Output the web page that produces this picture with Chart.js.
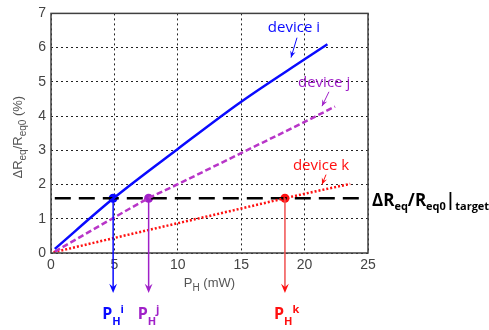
<!DOCTYPE html>
<html>
<head>
<meta charset="utf-8">
<script src="https://cdn.jsdelivr.net/npm/chart.js@4"></script>
<style>
  html, body { margin: 0; padding: 0; background: #fff; }
</style>
</head>
<body>
<canvas id="myChart" width="489" height="330"></canvas>
<script>
// values (x = P_H in mW, y = dR/R in %)
const devI_x = [0.3, 5, 10, 15, 20, 21.8];
const devI_y = [0.12, 1.62, 3.04, 4.42, 5.66, 6.1];
const devJ_x = [0.3, 5, 7.7, 10, 15, 20, 22.4];
const devJ_y = [0.04, 1.04, 1.6, 2.01, 2.92, 3.83, 4.28];
const devK_x = [0.2, 5, 10, 15, 18.45, 20, 23.6];
const devK_y = [0.02, 0.44, 0.87, 1.3, 1.6, 1.73, 2.02];
const target_x = [0.3, 24.8];
const target_y = 1.6;
const cross_x = [4.9, 7.7, 18.45]; // P_H^i, P_H^j, P_H^k
const cross_names = ["i", "j", "k"];

const toPts = (xs, ys) => xs.map((x, i) => ({ x: x, y: Array.isArray(ys) ? ys[i] : ys }));

const BLUE = "#0a0aff";
const PURPLE = "#a020c8";
const MAGENTA = "#b835c8";
const RED = "#ff1010";

// draws a line of text made of runs (normal / sub / sup)
const drawRuns = (ctx, runs, x, y, align) => {
  let total = 0;
  runs.forEach((r) => { ctx.font = r.font; total += ctx.measureText(r.t).width; });
  let cx = align === "center" ? x - total / 2 : x;
  runs.forEach((r) => {
    ctx.font = r.font;
    ctx.fillText(r.t, cx, y + (r.dy || 0));
    cx += ctx.measureText(r.t).width;
  });
};

const arrowHead = (ctx, x1, y1, x2, y2, size, color) => {
  const a = Math.atan2(y2 - y1, x2 - x1);
  ctx.fillStyle = color;
  ctx.beginPath();
  ctx.moveTo(x2, y2);
  ctx.lineTo(x2 - size * Math.cos(a - 0.4), y2 - size * Math.sin(a - 0.4));
  ctx.lineTo(x2 - size * 0.6 * Math.cos(a), y2 - size * 0.6 * Math.sin(a));
  ctx.lineTo(x2 - size * Math.cos(a + 0.4), y2 - size * Math.sin(a + 0.4));
  ctx.closePath();
  ctx.fill();
};

const extras = {
  id: "extras",
  afterDraw(chart) {
    const ctx = chart.ctx;
    const xs = chart.scales.x, ys = chart.scales.y;
    const area = chart.chartArea;
    ctx.save();

    // frame
    ctx.strokeStyle = "#404040";
    ctx.lineWidth = 1.5;
    ctx.setLineDash([]);
    ctx.strokeRect(area.left, area.top, area.right - area.left, area.bottom - area.top);

    // vertical arrows from the crossing points
    const arrowCols = [BLUE, PURPLE, "#f05050"];
    const labelCols = [BLUE, PURPLE, RED];
    const tipY = area.bottom + 40;
    cross_x.forEach((cx, i) => {
      const px = xs.getPixelForValue(cx);
      const py = ys.getPixelForValue(target_y);
      ctx.strokeStyle = arrowCols[i];
      ctx.lineWidth = 1.5;
      ctx.beginPath();
      ctx.moveTo(px, py);
      ctx.lineTo(px, tipY - 4);
      ctx.stroke();
      arrowHead(ctx, px, py, px, tipY, 10, labelCols[i]);

      ctx.fillStyle = labelCols[i];
      ctx.textAlign = "left";
      ctx.textBaseline = "alphabetic";
      drawRuns(ctx, [
        { t: "P", font: "bold 16px 'Open Sans'" },
        { t: "H", font: "bold 11px 'Open Sans'", dy: 6 },
        { t: cross_names[i], font: "bold 11px 'Open Sans'", dy: -6 }
      ], px - 11, area.bottom + 66);
    });

    // device labels with small arrows (anchored in data units)
    const notes = [
      { t: "device i", c: BLUE, at: [17.1, 6.46], from: [19.4, 6.29], to: [18.93, 5.71] },
      { t: "device j", c: PURPLE, at: [19.48, 4.86], from: [21.92, 4.71], to: [21.37, 4.29] },
      { t: "device k", c: RED, at: [19.08, 2.43], from: [21.69, 2.29], to: [21.37, 2.0] }
    ];
    notes.forEach((n) => {
      ctx.fillStyle = n.c;
      ctx.font = "15px 'Open Sans'";
      ctx.textAlign = "left";
      ctx.fillText(n.t, xs.getPixelForValue(n.at[0]), ys.getPixelForValue(n.at[1]));
      const x1 = xs.getPixelForValue(n.from[0]), y1 = ys.getPixelForValue(n.from[1]);
      const x2 = xs.getPixelForValue(n.to[0]), y2 = ys.getPixelForValue(n.to[1]);
      ctx.strokeStyle = n.c;
      ctx.lineWidth = 1;
      ctx.beginPath();
      ctx.moveTo(x1, y1);
      ctx.lineTo(x2, y2);
      ctx.stroke();
      arrowHead(ctx, x1, y1, x2, y2, 7, n.c);
    });

    // target label
    ctx.fillStyle = "#000";
    ctx.textAlign = "left";
    const big = "bold 17px 'Open Sans'", small = "bold 11px 'Open Sans'";
    drawRuns(ctx, [
      { t: "ΔR", font: big }, { t: "eq", font: small, dy: 4 },
      { t: "/R", font: big }, { t: "eq0", font: small, dy: 4 },
      { t: "|", font: big }, { t: "target", font: small, dy: 4 }
    ], area.right + 4, ys.getPixelForValue(target_y) + 8);

    // axis titles
    ctx.fillStyle = "#555";
    drawRuns(ctx, [
      { t: "P", font: "13px 'Liberation Sans'" },
      { t: "H", font: "10px 'Liberation Sans'", dy: 4 },
      { t: " (mW)", font: "13px 'Liberation Sans'" }
    ], (area.left + area.right) / 2, area.bottom + 34, "center");

    ctx.translate(22, (area.top + area.bottom) / 2 + 4);
    ctx.rotate(-Math.PI / 2);
    drawRuns(ctx, [
      { t: "ΔR", font: "13px 'Liberation Sans'" },
      { t: "eq", font: "10px 'Liberation Sans'", dy: 4 },
      { t: "/R", font: "13px 'Liberation Sans'" },
      { t: "eq0", font: "10px 'Liberation Sans'", dy: 4 },
      { t: " (%)", font: "13px 'Liberation Sans'" }
    ], 0, 0, "center");
    ctx.restore();
  }
};

const ctx = document.getElementById("myChart").getContext("2d");
const myChart = new Chart(ctx, {
  type: "scatter",
  data: {
    datasets: [
      { label: "device i", data: toPts(devI_x, devI_y), showLine: true, borderColor: BLUE,
        borderWidth: 2.5, pointRadius: 0, cubicInterpolationMode: "monotone" },
      { label: "device j", data: toPts(devJ_x, devJ_y), showLine: true, borderColor: MAGENTA,
        borderWidth: 2.5, borderDash: [6, 3], pointRadius: 0, cubicInterpolationMode: "monotone" },
      { label: "device k", data: toPts(devK_x, devK_y), showLine: true, borderColor: RED,
        borderWidth: 2.5, borderDash: [2, 2], pointRadius: 0, cubicInterpolationMode: "monotone" },
      { label: "target", data: toPts(target_x, target_y), showLine: true, borderColor: "#000",
        borderWidth: 2.5, borderDash: [16, 8], pointRadius: 0 },
      { label: "crossings", data: toPts(cross_x, target_y), showLine: false,
        pointRadius: 4.5, pointBackgroundColor: [BLUE, PURPLE, RED], pointBorderWidth: 0 }
    ]
  },
  options: {
    responsive: false,
    animation: false,
    layout: { padding: { left: 0, top: 8, right: 121, bottom: 0 } },
    plugins: { legend: { display: false }, tooltip: { enabled: false } },
    scales: {
      x: {
        type: "linear", min: 0, max: 25,
        afterFit: (s) => { s.height = 77; },
        ticks: { stepSize: 5, padding: 4, color: "#444", font: { family: "Liberation Sans", size: 14 } },
        grid: { drawTicks: false, color: "#222", lineWidth: 1 },
        border: { display: false, dash: [2, 3] }
      },
      y: {
        min: 0, max: 7,
        afterFit: (s) => { s.width = 51; },
        ticks: { stepSize: 1, padding: 5, color: "#444", font: { family: "Liberation Sans", size: 14 } },
        grid: { drawTicks: false, color: "#222", lineWidth: 1 },
        border: { display: false, dash: [2, 3] }
      }
    }
  },
  plugins: [extras]
});
</script>
</body>
</html>
